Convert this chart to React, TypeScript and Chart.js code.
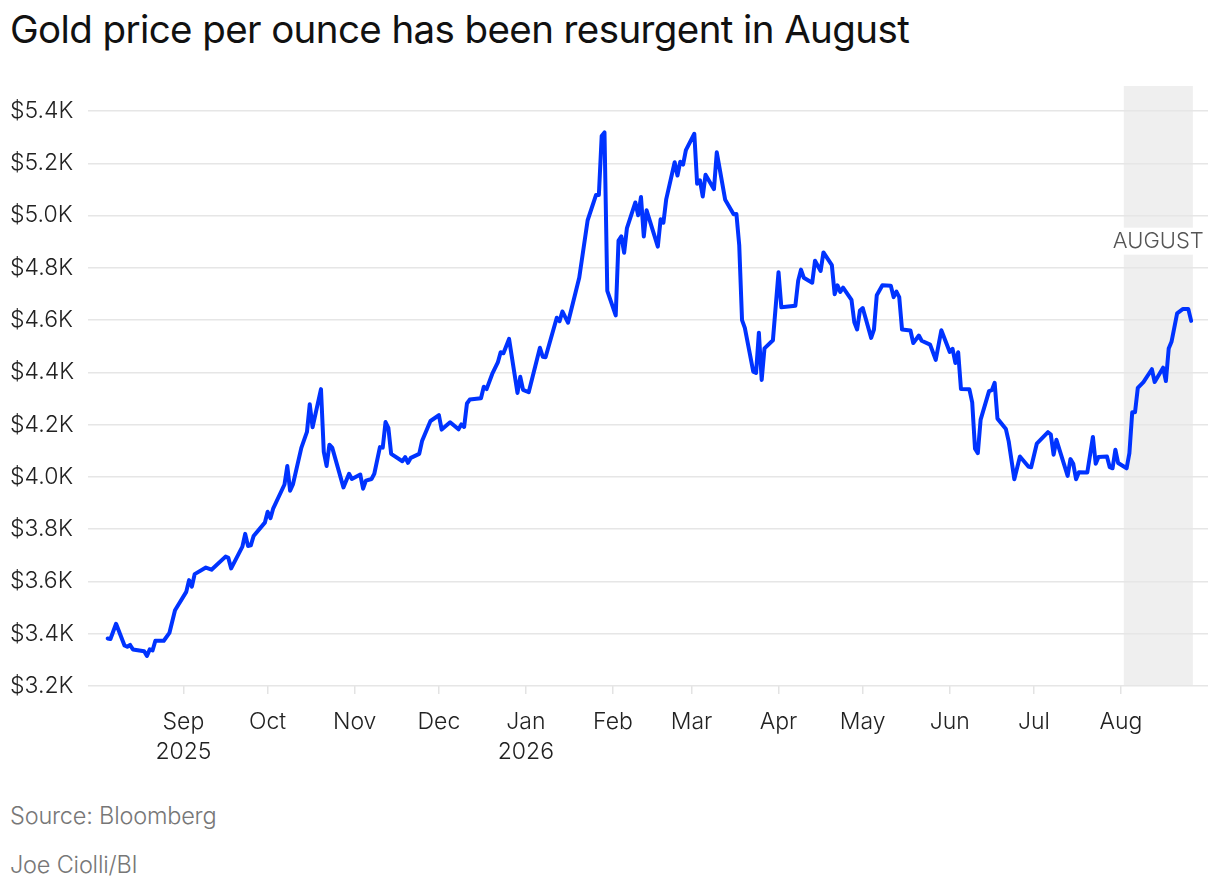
import React, { useEffect, useRef } from 'react';
import { Chart, registerables } from 'chart.js';

Chart.register(...registerables);

// Day index: 0 = Aug 1 2025
const days = [
  4, 5, 7, 10, 11, 12, 13, 17, 18, 19, 20, 21, 24, 26, 28, 32, 33, 34, 35, 39,
  41, 46, 47, 48, 52, 53, 54, 55, 56, 60, 61, 62, 63, 67, 68, 69, 70, 73, 75, 76,
  77, 80, 81, 82, 83, 84, 88, 90, 91, 94, 95, 96, 98, 99, 101, 102, 103, 104, 105, 109,
  110, 111, 112, 115, 116, 119, 122, 123, 126, 129, 130, 131, 132, 133, 137, 138, 139, 141, 143, 144,
  145, 147, 150, 151, 152, 154, 158, 159, 160, 164, 165, 166, 168, 172, 175, 178, 179, 180, 181, 182,
  185, 186, 187, 188, 189, 192, 193, 194, 195, 196, 200, 201, 202, 203, 206, 207, 208, 209, 210, 213,
  214, 215, 216, 217, 220, 221, 224, 227, 228, 229, 230, 231, 234, 235, 236, 237, 238, 241, 243, 244,
  249, 250, 251, 252, 255, 256, 258, 259, 262, 263, 264, 265, 266, 269, 270, 271, 272, 273, 276, 277,
  278, 280, 283, 284, 285, 286, 287, 290, 291, 293, 294, 297, 299, 301, 304, 305, 306, 307, 308, 311,
  312, 313, 314, 315, 318, 319, 320, 321, 324, 325, 327, 329, 332, 333, 335, 339, 340, 341, 342, 346,
  347, 348, 349, 350, 353, 355, 356, 357, 360, 361, 362, 363, 364, 367, 368, 369, 370, 371, 373, 376,
  377, 380, 381, 382, 383, 385, 387, 389, 390,
];

const prices = [
  3382, 3380, 3438, 3355, 3350, 3357, 3340, 3333, 3315, 3340, 3336, 3373, 3373, 3403, 3490, 3560, 3605, 3580, 3628, 3653,
  3645, 3695, 3690, 3650, 3733, 3782, 3736, 3738, 3774, 3825, 3867, 3842, 3880, 3971, 4042, 3947, 3971, 4111, 4172, 4278,
  4190, 4336, 4096, 4042, 4123, 4112, 3960, 4012, 3992, 4009, 3955, 3986, 3992, 4012, 4114, 4112, 4210, 4188, 4088, 4060,
  4076, 4054, 4073, 4088, 4137, 4214, 4236, 4181, 4209, 4182, 4201, 4191, 4281, 4296, 4301, 4345, 4336, 4394, 4438, 4477,
  4473, 4528, 4321, 4383, 4333, 4324, 4494, 4460, 4458, 4609, 4596, 4633, 4590, 4762, 4982, 5079, 5079, 5304, 5318, 4712,
  4618, 4904, 4920, 4858, 4952, 5050, 5001, 5071, 4920, 5020, 4881, 4986, 4973, 5063, 5204, 5153, 5206, 5195, 5250, 5313,
  5122, 5135, 5073, 5156, 5101, 5242, 5060, 5005, 5006, 4887, 4600, 4570, 4403, 4398, 4552, 4371, 4492, 4523, 4783, 4649,
  4655, 4751, 4793, 4762, 4743, 4827, 4788, 4859, 4810, 4699, 4733, 4708, 4724, 4677, 4592, 4564, 4637, 4646, 4532, 4564,
  4695, 4733, 4731, 4688, 4709, 4688, 4564, 4560, 4512, 4541, 4521, 4506, 4448, 4561, 4478, 4490, 4436, 4477, 4336, 4335,
  4285, 4108, 4091, 4219, 4328, 4332, 4360, 4223, 4183, 4136, 3991, 4078, 4040, 4037, 4127, 4171, 4162, 4085, 4142, 4004,
  4068, 4050, 3991, 4018, 4017, 4153, 4050, 4076, 4078, 4037, 4033, 4104, 4053, 4033, 4091, 4247, 4247, 4341, 4363, 4412,
  4363, 4418, 4367, 4491, 4517, 4626, 4642, 4642, 4597,
];

// Month starts (day index) and their labels
const monthDays = [31, 61, 92, 122, 153, 184, 212, 243, 273, 304, 334, 365];
const monthLabels: (string | string[])[] = [
  ['Sep', '2025'], 'Oct', 'Nov', 'Dec', ['Jan', '2026'], 'Feb', 'Mar', 'Apr', 'May', 'Jun', 'Jul', 'Aug',
];

const yTicks = [3200, 3400, 3600, 3800, 4000, 4200, 4400, 4600, 4800, 5000, 5200, 5400];

const augustStart = 366;
const augustEnd = 390.6;
const augustLabel = 'AUGUST';

const FONT = 'Inter, "Noto Sans", sans-serif';

const shadePlugin = {
  id: 'augustShade',
  beforeDraw(chart: any) {
    const { ctx, chartArea, scales } = chart;
    const x0 = scales.x.getPixelForValue(augustStart);
    const x1 = scales.x.getPixelForValue(augustEnd);
    ctx.save();
    ctx.fillStyle = '#efefef';
    ctx.fillRect(x0, chartArea.top - 25, x1 - x0, chartArea.bottom - chartArea.top + 25);
    ctx.restore();
  },
  beforeDatasetsDraw(chart: any) {
    const { ctx, scales } = chart;
    const y = scales.y.getPixelForValue(4900);
    const right = scales.x.getPixelForValue(augustEnd) + 11;
    ctx.save();
    ctx.font = `300 22px ${FONT}`;
    const w = ctx.measureText(augustLabel).width;
    ctx.fillStyle = '#ffffff';
    ctx.fillRect(right - w - 3, y - 14, w + 3, 27);
    ctx.fillStyle = '#555555';
    ctx.textAlign = 'right';
    ctx.textBaseline = 'middle';
    ctx.fillText(augustLabel, right, y);
    ctx.restore();
  },
};

const GoldChart: React.FC = () => {
  const canvasRef = useRef<HTMLCanvasElement>(null);
  const chartInstance = useRef<Chart | null>(null);

  useEffect(() => {
    if (!canvasRef.current) return;
    if (chartInstance.current) chartInstance.current.destroy();

    const points = days.map((d, i) => ({ x: d, y: prices[i] }));

    chartInstance.current = new Chart(canvasRef.current, {
      type: 'line',
      data: {
        datasets: [
          {
            data: points,
            borderColor: '#0033ff',
            borderWidth: 4,
            pointRadius: 0,
            tension: 0,
            borderJoinStyle: 'round',
            borderCapStyle: 'round',
          },
        ],
      },
      options: {
        animation: false,
        responsive: false,
        maintainAspectRatio: false,
        layout: { padding: { left: 10, right: 12, top: 51, bottom: 0 } },
        plugins: { legend: { display: false }, tooltip: { enabled: false } },
        scales: {
          x: {
            type: 'linear',
            min: -3,
            max: 396,
            afterBuildTicks: (scale: any) => {
              scale.ticks = monthDays.map((v) => ({ value: v }));
            },
            afterFit: (scale: any) => {
              scale.height = 94;
            },
            grid: {
              drawOnChartArea: false,
              drawTicks: true,
              tickLength: 8,
              color: '#e3e3e3',
              lineWidth: 1.5,
            },
            border: { display: false },
            ticks: {
              autoSkip: false,
              maxRotation: 0,
              padding: 13,
              color: '#222222',
              font: { family: FONT, size: 23, weight: 300, lineHeight: 1.32 },
              callback: (v: any) => {
                const i = monthDays.indexOf(Number(v));
                return i >= 0 ? monthLabels[i] : '';
              },
            },
          },
          y: {
            min: 3200,
            max: 5400,
            afterBuildTicks: (scale: any) => {
              scale.ticks = yTicks.map((v) => ({ value: v }));
            },
            afterFit: (scale: any) => {
              scale.width = 78;
            },
            grid: { color: '#e6e6e6', lineWidth: 1.5, drawTicks: false },
            border: { display: false },
            ticks: {
              crossAlign: 'far',
              padding: 10,
              color: '#222222',
              font: { family: FONT, size: 23, weight: 300 },
              callback: (v: any) => '$' + (Number(v) / 1000).toFixed(1) + 'K',
            },
          },
        },
      },
      plugins: [shadePlugin],
    });

    return () => {
      if (chartInstance.current) {
        chartInstance.current.destroy();
        chartInstance.current = null;
      }
    };
  }, []);

  return (
    <canvas
      ref={canvasRef}
      width={1220}
      height={720}
      style={{ position: 'absolute', left: 0, top: 60, width: 1220, height: 720 }}
    />
  );
};

export default function App() {
  return (
    <div
      style={{
        position: 'fixed',
        left: 0,
        top: 0,
        width: 1220,
        height: 890,
        background: '#ffffff',
        fontFamily: FONT,
        overflow: 'hidden',
      }}
    >
      <div
        style={{
          position: 'absolute',
          left: 10,
          top: 4,
          fontSize: 38.5,
          lineHeight: '50px',
          color: '#111111',
          letterSpacing: -0.6,
        }}
      >
        Gold price per ounce has been resurgent in August
      </div>
      <GoldChart />
      <div
        style={{
          position: 'absolute',
          left: 10,
          top: 801,
          fontSize: 23.5,
          lineHeight: '30px',
          color: '#777777',
          fontWeight: 300,
          letterSpacing: -0.2,
        }}
      >
        Source: Bloomberg
      </div>
      <div
        style={{
          position: 'absolute',
          left: 10,
          top: 850,
          fontSize: 23.5,
          lineHeight: '30px',
          color: '#777777',
          fontWeight: 300,
          letterSpacing: -0.2,
        }}
      >
        Joe Ciolli/BI
      </div>
    </div>
  );
}
